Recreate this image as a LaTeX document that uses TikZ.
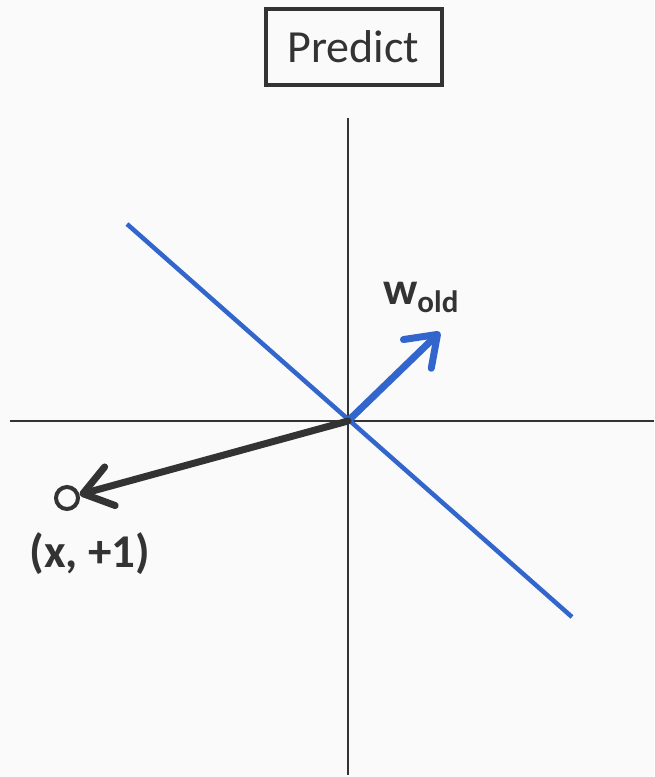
\documentclass[tikz,border=0pt]{standalone}
\usepackage{fontspec}
\setmainfont{Carlito}
\usetikzlibrary{arrows.meta}
\definecolor{bg}{HTML}{FAFAFA}
\definecolor{dark}{HTML}{333333}
\definecolor{wblue}{HTML}{3366CC}
\tikzset{
  axis/.style={draw=dark, line width=1.5pt},
  vecarrow/.style={line width=7pt, line cap=round, -{Straight Barb[length=28pt, width=40pt, round]}},
  lbl/.style={text=dark, inner sep=0pt, font=\bfseries}
}
\begin{document}
\begin{tikzpicture}[x=1pt,y=-1pt]
\fill[bg] (0,0) rectangle (654,777);
\useasboundingbox (0,0) rectangle (654,777);
% title box
\node[draw=dark, line width=4pt, minimum width=176pt, minimum height=76pt, text=dark,
      font=\fontsize{46}{50}\selectfont, inner sep=0pt] (predict) at (353.5,47) {Predict};
% axes
\coordinate (vtop) at (348,118);
\coordinate (vbot) at (348,775);
\coordinate (hl) at (10,421);
\coordinate (hr) at (654,421);
\coordinate (o) at (348,421);
\draw[axis] (vtop) -- (vbot);
\draw[axis] (hl) -- (hr);
% decision boundary
\coordinate (b1) at (127,224);
\coordinate (b2) at (572,617);
\draw[wblue, line width=4.5pt] (b1) -- (b2);
% point
\node[circle, draw=dark, line width=4pt, minimum size=22pt, inner sep=0pt, fill=bg] (pt) at (67,498) {};
% vectors
\coordinate (wtip) at (440,332);
\draw[vecarrow, draw=wblue] (o) -- (wtip);
\draw[vecarrow, draw=dark] (o) -- (pt);
% labels
\node[lbl, anchor=base west, font=\bfseries\fontsize{46}{46}\selectfont] (wold) at (383,304)
  {w\raisebox{-8pt}{\fontsize{31}{31}\selectfont old}};
\node[lbl, anchor=base, font=\bfseries\fontsize{47}{47}\selectfont] (xlab) at (90,567) {(x, +1)};
\end{tikzpicture}
\end{document}
